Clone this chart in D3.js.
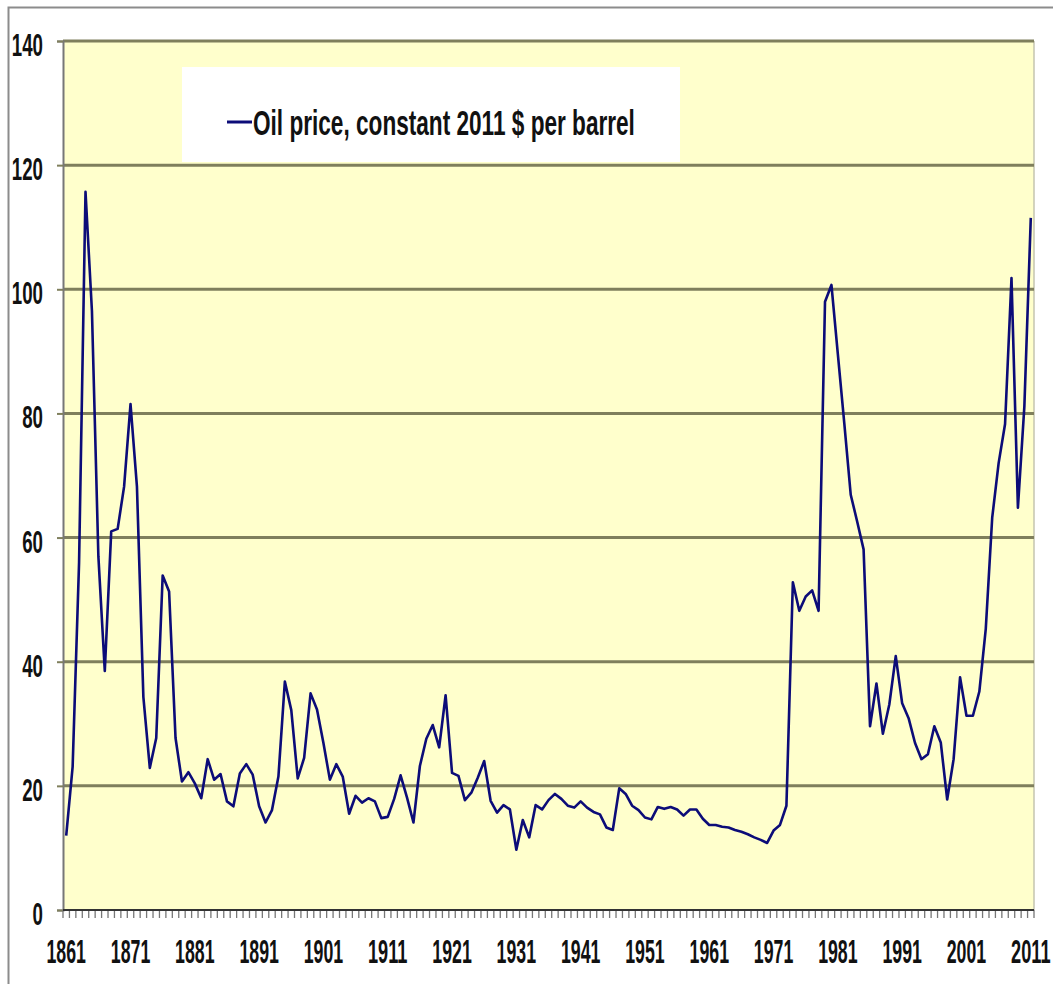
<!DOCTYPE html>
<html>
<head>
<meta charset="utf-8">
<script src="https://cdn.jsdelivr.net/npm/d3@7"></script>
<style>
	body { margin:0; background:#fff; }
	svg { display:block; }
	.lbl { font-family:"Liberation Sans",Arial,sans-serif; font-weight:bold; fill:#111; }
</style>
</head>
<body>
<svg id="OIL_CHART"></svg>
<script>
/******** data ********/
var firstYear = 1861,
	lastYear = 2011;

// constant 2011 $ per barrel, one value per year 1861 - 2011
var oilPrice = [
	12.0, 23.1, 56.0, 115.7, 96.5, 57.0, 38.5, 61.0, 61.4, 68.2,      // 1861-1870
	81.5, 68.2, 34.3, 22.9, 27.7, 53.9, 51.3, 27.7, 20.7, 22.2,       // 1871-1880
	20.4, 18.0, 24.3, 21.0, 21.9, 17.5, 16.7, 22.0, 23.5, 21.8,       // 1881-1890
	16.7, 14.1, 16.1, 21.5, 36.8, 32.2, 21.2, 24.5, 34.9, 32.3,       // 1891-1900
	26.9, 21.0, 23.5, 21.5, 15.5, 18.4, 17.3, 18.0, 17.5, 14.8,       // 1901-1910
	15.0, 17.9, 21.7, 18.1, 14.1, 23.2, 27.6, 29.8, 26.2, 34.6,       // 1911-1920
	22.1, 21.6, 17.7, 18.9, 21.3, 24.0, 17.6, 15.7, 16.9, 16.2,       // 1921-1930
	9.7, 14.5, 11.7, 16.9, 16.2, 17.7, 18.7, 17.9, 16.8, 16.5,        // 1931-1940
	17.5, 16.5, 15.8, 15.4, 13.3, 12.9, 19.6, 18.7, 16.8, 16.1,       // 1941-1950
	14.9, 14.6, 16.6, 16.3, 16.6, 16.2, 15.2, 16.2, 16.2, 14.7,       // 1951-1960
	13.7, 13.7, 13.4, 13.3, 12.9, 12.6, 12.2, 11.7, 11.3, 10.8,       // 1961-1970
	12.8, 13.7, 16.8, 52.8, 48.2, 50.5, 51.5, 48.2, 98.0, 100.7,      // 1971-1980
	89.5, 78.4, 66.9, 62.6, 58.1, 29.6, 36.5, 28.4, 33.1, 40.9,       // 1981-1990
	33.3, 30.9, 26.9, 24.3, 25.1, 29.6, 27.0, 17.8, 24.3, 37.5,       // 1991-2000
	31.3, 31.3, 35.2, 45.3, 63.2, 72.0, 78.3, 101.8, 64.8, 81.1,      // 2001-2010
	111.5                                                             // 2011
];

var years = d3.range(firstYear, lastYear + 1);
var yearLabels = [1861, 1871, 1881, 1891, 1901, 1911, 1921, 1931, 1941, 1951, 1961, 1971, 1981, 1991, 2001, 2011];
var yTicks = [0, 20, 40, 60, 80, 100, 120, 140];
var legendText = "Oil price, constant 2011 $ per barrel";

// the source picture is stretched vertically: fit a text to a width and a cap height
function stretchText(node, px, py, targetW, capH){
	var t = d3.select(node);
	t.attr("font-size", 20).attr("x", 0).attr("y", 0).attr("dy", null);
	var nat = node.getComputedTextLength();
	var fs = 20 * targetW / nat;
	t.attr("font-size", fs);
	var sy = capH / (0.716 * fs);
	t.attr("transform", "translate(" + px + "," + py + ") scale(1," + sy + ")");
}

/******** chart ********/
function drawOilChart(){
	var width = 1053,
		height = 984,
		plotL = 63, plotR = 1034,
		plotT = 41, plotB = 910;

	var data = years.map(function(y, i){ return { year: y, price: oilPrice[i] }; });

	var svg = d3.select("#OIL_CHART")
		.attr("width", width)
		.attr("height", height);

	// outer frame
	svg.append("rect")
		.attr("x", 8.5).attr("y", 7.5)
		.attr("width", 1200).attr("height", 1200)
		.attr("fill", "#fff")
		.attr("stroke", "#8c8c8c")
		.attr("stroke-width", 2);

	var x = d3.scaleBand()
		.domain(years)
		.range([plotL, plotR])
		.padding(0);

	var y = d3.scaleLinear()
		.domain([0, 140])
		.range([plotB, plotT]);

	var bw = x.bandwidth();

	// plot background
	svg.append("rect")
		.attr("x", plotL).attr("y", plotT)
		.attr("width", plotR - plotL).attr("height", plotB - plotT)
		.attr("fill", "#ffffcc");

	// right edge of plot
	svg.append("line")
		.attr("x1", plotR).attr("x2", plotR)
		.attr("y1", plotT).attr("y2", plotB)
		.attr("stroke", "#c4c4b0").attr("stroke-width", 1.5);

	// gridlines
	svg.append("g")
		.attr("class", "grid")
		.selectAll("line")
		.data(yTicks.filter(function(d){ return d > 0; }))
		.enter().append("line")
		.attr("x1", plotL).attr("x2", plotR)
		.attr("y1", function(d){ return y(d); })
		.attr("y2", function(d){ return y(d); })
		.attr("stroke", "#7f7f5c")
		.attr("stroke-width", 3);

	// y axis
	var yAxis = svg.append("g")
		.attr("class", "y axis")
		.attr("transform", "translate(" + plotL + ",0)")
		.call(d3.axisLeft(y).tickValues(yTicks).tickSize(6).tickPadding(14));

	yAxis.select(".domain").attr("stroke", "#777").attr("stroke-width", 2);
	yAxis.selectAll(".tick line").attr("stroke", "#7f7f5c").attr("stroke-width", 2);
	yAxis.selectAll(".tick text")
		.attr("class", "lbl")
		.attr("text-anchor", "end")
		.each(function(d){
			stretchText(this, -20, 14.5, String(d).length * 10.4, 23);
		});

	// x axis tick marks at category borders
	svg.append("g")
		.attr("class", "x-ticks")
		.selectAll("line")
		.data(years.concat([null]))
		.enter().append("line")
		.attr("x1", function(d){ return d === null ? plotR : x(d); })
		.attr("x2", function(d){ return d === null ? plotR : x(d); })
		.attr("y1", plotB)
		.attr("y2", plotB + 8)
		.attr("stroke", "#777")
		.attr("stroke-width", 1.3);

	// x axis labels
	var xAxis = svg.append("g")
		.attr("class", "x axis")
		.attr("transform", "translate(0," + plotB + ")")
		.call(d3.axisBottom(x).tickValues(yearLabels).tickSize(0));

	xAxis.select(".domain").remove();
	xAxis.selectAll(".tick text")
		.attr("class", "lbl")
		.attr("text-anchor", "middle")
		.each(function(){
			stretchText(this, 0, 53, 39.5, 24);
		});

	// zero line
	svg.append("line")
		.attr("x1", plotL).attr("x2", plotR)
		.attr("y1", y(0)).attr("y2", y(0))
		.attr("stroke", "#333").attr("stroke-width", 2);

	// price line
	var line = d3.line()
		.x(function(d){ return x(d.year) + bw / 2; })
		.y(function(d){ return y(d.price); });

	svg.append("path")
		.datum(data)
		.attr("d", line)
		.attr("fill", "none")
		.attr("stroke", "#0c0c78")
		.attr("stroke-width", 2.6)
		.attr("stroke-linejoin", "round");

	/******** legend ********/
	var legend = svg.append("g").attr("class", "legend");
	legend.append("rect")
		.attr("x", 182).attr("y", 67)
		.attr("width", 498).attr("height", 95)
		.attr("fill", "#fff");
	legend.append("line")
		.attr("x1", 227).attr("x2", 252)
		.attr("y1", 122).attr("y2", 122)
		.attr("stroke", "#0c0c78").attr("stroke-width", 3);
	var legendLabel = legend.append("text")
		.attr("class", "lbl")
		.text(legendText);
	stretchText(legendLabel.node(), 253, 135, 382, 25);
}
drawOilChart();
</script>
</body>
</html>
